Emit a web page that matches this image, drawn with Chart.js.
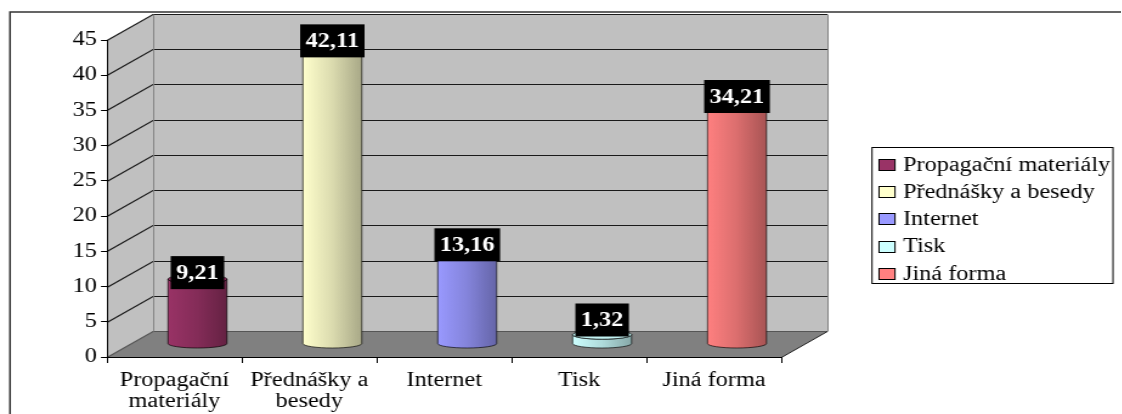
<!DOCTYPE html>
<html>
<head>
<meta charset="utf-8">
<script src="https://cdn.jsdelivr.net/npm/chart.js@4.4.0/dist/chart.umd.min.js"></script>
<style>
    html, body { margin: 0; padding: 0; background: #fff; overflow: hidden; }
    #wrap { transform-origin: 0 0; }
</style>
</head>
<body>
<div id="wrap"><canvas id="graf"></canvas></div>
<script>
// data
var categories = [["Propagační", "materiály"], ["Přednášky a", "besedy"], "Internet", "Tisk", "Jiná forma"];
var legendNames = ["Propagační materiály", "Přednášky a besedy", "Internet", "Tisk", "Jiná forma"];
var values = [9.21, 42.11, 13.16, 1.32, 34.21];
var colors = ["#993366", "#FFFFCC", "#9999FF", "#CCFFFF", "#FF8080"];
var yMin = 0, yMax = 45, yStep = 5;

// the old picture is stretched sideways, so draw narrow and stretch the canvas
var S = 1.215;
var W = 1122 / S, H = 414;
function px(x) { return x / S; }

var FONT = "'Liberation Serif', 'Times New Roman', serif";
var FSIZE = 20;
var DX = px(46), DY = -26;   // depth of the 3d box

var wrap = document.getElementById("wrap");
var cnv = document.getElementById("graf");
cnv.width = W; cnv.height = H;
wrap.style.width = W + "px";
wrap.style.height = H + "px";
wrap.style.transform = "scaleX(" + (1122 / W) + ")";

function shade(hex, f) {
    var n = parseInt(hex.slice(1), 16);
    var r = (n >> 16) & 255, g = (n >> 8) & 255, b = n & 255;
    return "rgb(" + Math.round(r * f) + "," + Math.round(g * f) + "," + Math.round(b * f) + ")";
}

var box3d = {
    id: "box3d",
    beforeDraw: function(chart) {
        var ctx = chart.ctx;
        var xs = chart.scales.x, ys = chart.scales.y;
        var L = xs.left, R = xs.right;
        var y0 = Math.round(ys.getPixelForValue(yMin)) + 0.5;
        var yt = Math.round(ys.getPixelForValue(yMax)) + 0.5;
        ctx.save();

        // outer frame
        ctx.strokeStyle = "#333";
        ctx.lineWidth = 1.5;
        ctx.strokeRect(px(10), 12, chart.width, chart.height);

        // side wall
        ctx.fillStyle = "#c0c0c0";
        ctx.beginPath();
        ctx.moveTo(L, y0); ctx.lineTo(L, yt); ctx.lineTo(L + DX, yt + DY); ctx.lineTo(L + DX, y0 + DY);
        ctx.closePath(); ctx.fill();
        // back wall
        ctx.fillRect(L + DX, yt + DY, R - L, y0 - yt);
        // floor
        ctx.fillStyle = "#808080";
        ctx.beginPath();
        ctx.moveTo(L, y0); ctx.lineTo(R, y0); ctx.lineTo(R + DX, y0 + DY); ctx.lineTo(L + DX, y0 + DY);
        ctx.closePath(); ctx.fill();

        // grid lines on the walls
        ctx.lineWidth = 1.2;
        ys.ticks.forEach(function(t) {
            var y = Math.round(ys.getPixelForValue(t.value)) + 0.5;
            ctx.strokeStyle = t.value === yMin ? "#555" : "#1a1a1a";
            ctx.beginPath();
            ctx.moveTo(L, y); ctx.lineTo(L + DX, y + DY); ctx.lineTo(R + DX, y + DY);
            ctx.stroke();
        });
        // wall edges
        ctx.lineWidth = 1;
        ctx.strokeStyle = "#808080";
        ctx.beginPath();
        ctx.moveTo(L + DX + 0.5, yt + DY); ctx.lineTo(L + DX + 0.5, y0 + DY);
        ctx.moveTo(R + DX + 0.5, yt + DY); ctx.lineTo(R + DX + 0.5, y0 + DY);
        ctx.stroke();
        ctx.strokeStyle = "#222";
        ctx.beginPath();
        ctx.moveTo(R, y0); ctx.lineTo(R + DX, y0 + DY);
        ctx.stroke();
        ctx.restore();
    },
    beforeDatasetsDraw: function(chart) {
        var ctx = chart.ctx;
        var meta = chart.getDatasetMeta(0);
        var ds = chart.data.datasets[0];
        ctx.save();
        meta.data.forEach(function(el, i) {
            var cx = el.x + DX / 2;
            var top = el.y + DY / 2;
            var bot = el.base + DY / 2;
            var rx = el.width / 2, ry = 4.5;
            var col = ds.backgroundColor[i];

            var g = ctx.createLinearGradient(cx - rx, 0, cx + rx, 0);
            g.addColorStop(0, shade(col, 1.0));
            g.addColorStop(0.5, shade(col, 0.86));
            g.addColorStop(1, shade(col, 0.66));

            ctx.beginPath();
            ctx.moveTo(cx - rx, top);
            ctx.lineTo(cx - rx, bot);
            ctx.ellipse(cx, bot, rx, ry, 0, Math.PI, 0, true);
            ctx.lineTo(cx + rx, top);
            ctx.ellipse(cx, top, rx, ry, 0, 0, Math.PI, false);
            ctx.closePath();
            ctx.fillStyle = g;
            ctx.fill();
            ctx.strokeStyle = "rgba(0,0,0,0.8)";
            ctx.lineWidth = 0.8;
            ctx.stroke();

            ctx.beginPath();
            ctx.ellipse(cx, top, rx, ry, 0, 0, Math.PI * 2);
            ctx.fillStyle = shade(col, 0.95);
            ctx.fill();
            ctx.stroke();
        });

        // value labels
        ctx.font = "bold " + FSIZE + "px " + FONT;
        ctx.textAlign = "center";
        ctx.textBaseline = "middle";
        meta.data.forEach(function(el, i) {
            var cx = el.x + DX / 2;
            var top = el.y + DY / 2;
            var bot = el.base + DY / 2;
            var txt = values[i].toFixed(2).replace(".", ",");
            var w = ctx.measureText(txt).width + px(11), h = 33;
            var yb = Math.min(top + 10, bot - 7);
            ctx.fillStyle = "#000";
            ctx.fillRect(cx - w / 2, yb - h, w, h);
            ctx.fillStyle = "#fff";
            ctx.fillText(txt, cx, yb - h / 2 + 1);
        });
        ctx.restore();
        return false;
    },
    afterDraw: function(chart) {
        // legend
        var ctx = chart.ctx;
        var lx = px(872), ly = 147, lw = px(1113 - 872), lh = 136;
        ctx.save();
        ctx.strokeStyle = "#000";
        ctx.lineWidth = 1;
        ctx.strokeRect(lx, ly + 0.5, lw, lh);
        ctx.font = FSIZE + "px " + FONT;
        ctx.textBaseline = "middle";
        ctx.textAlign = "left";
        legendNames.forEach(function(name, i) {
            var y = 164.5 + i * 27.2;
            var sy = Math.round(y - 5.5) + 0.5;
            ctx.fillStyle = colors[i];
            ctx.fillRect(px(879), sy, px(16), 11);
            ctx.strokeStyle = "#000";
            ctx.strokeRect(px(879), sy, px(16), 11);
            ctx.fillStyle = "#000";
            ctx.fillText(name, px(903), y + 1);
        });
        ctx.restore();
    }
};

new Chart(cnv, {
    type: "bar",
    data: {
        labels: categories,
        datasets: [{
            label: "Forma",
            data: values,
            backgroundColor: colors,
            categoryPercentage: 1,
            barPercentage: 0.437
        }]
    },
    options: {
        responsive: false,
        animation: false,
        devicePixelRatio: 1,
        layout: { padding: { left: 0, right: px(1122 - 782), top: 40, bottom: 0 } },
        plugins: {
            legend: { display: false },
            tooltip: { enabled: false }
        },
        scales: {
            x: {
                afterFit: function(scale) { scale.height = H - 357; },
                grid: { offset: true, drawOnChartArea: false, tickLength: 6, color: "#000" },
                border: { display: true, color: "#000" },
                ticks: { color: "#000", padding: 7, maxRotation: 0, autoSkip: false,
                    font: { family: FONT, size: FSIZE, lineHeight: 1.05 } }
            },
            y: {
                min: yMin,
                max: yMax,
                afterFit: function(scale) { scale.width = px(107); },
                grid: { drawOnChartArea: false, tickLength: px(6), color: "#000" },
                border: { display: true, color: "#000" },
                ticks: { stepSize: yStep, color: "#000", padding: px(4),
                    font: { family: FONT, size: FSIZE } }
            }
        }
    },
    plugins: [box3d]
});
</script>
</body>
</html>
